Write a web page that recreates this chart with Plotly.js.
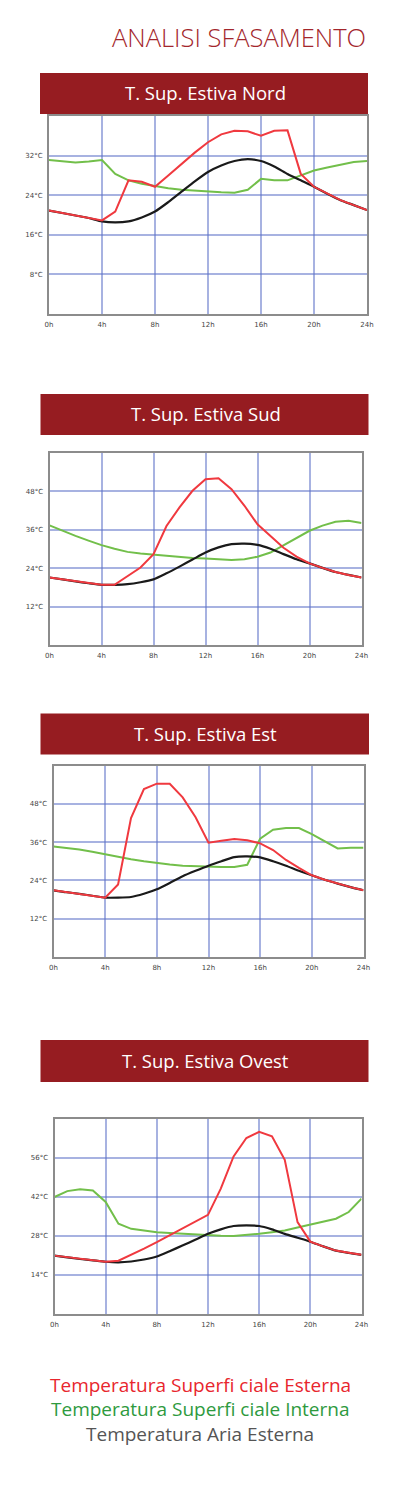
<!DOCTYPE html>
<html>
<head>
<meta charset="utf-8">
<script src="https://cdn.plot.ly/plotly-3.0.1.min.js"></script>
<style>
html,body{margin:0;padding:0;background:#fff;}
#chart{width:399px;height:1500px;}
</style>
</head>
<body>
<div id="chart"></div>
<script>
// ---------- DATA ----------
const HOURS = [0,1,2,3,4,5,6,7,8,9,10,11,12,13,14,15,16,17,18,19,20,21,22,23,24];
const X_TICK_LABELS = ['0h','4h','8h','12h','16h','20h','24h'];
const X_TICK_VALUES = [0,4,8,12,16,20,24];

const PANEL_TITLES = ['T. Sup. Estiva Nord','T. Sup. Estiva Sud','T. Sup. Estiva Est','T. Sup. Estiva Ovest'];

// Nord
const nordEsterna = [20.9,20.4,19.9,19.4,18.9,20.7,27.0,26.7,25.7,28.0,30.3,32.6,34.7,36.3,37.0,36.9,36.0,37.0,37.1,28.3,25.7,24.3,23.0,22.0,21.0];
const nordInterna = [31.1,30.8,30.6,30.8,31.1,28.3,27.0,26.3,25.8,25.4,25.1,24.9,24.7,24.6,24.5,25.1,27.3,27.0,27.0,28.0,29.0,29.6,30.2,30.7,30.9];
const nordAria    = [20.9,20.4,19.9,19.4,18.7,18.5,18.7,19.5,20.7,22.6,24.7,26.8,28.7,30.0,30.9,31.3,30.9,29.8,28.3,27.0,25.7,24.3,23.0,22.0,21.0];
const nordTickVals = [8,16,24,32];
const nordTickLabels = ['8°C','16°C','24°C','32°C'];

// Sud
const sudEsterna = [21.1,20.5,19.9,19.3,18.8,18.8,21.5,24.2,28.4,37.2,43.0,48.2,51.8,52.1,48.7,43.5,37.7,34.1,30.4,27.6,25.5,24.1,22.8,21.9,21.1];
const sudInterna = [37.4,35.7,34.1,32.6,31.2,30.1,29.1,28.6,28.2,27.8,27.5,27.2,27.0,26.8,26.6,26.8,27.6,28.9,31.2,33.6,35.7,37.3,38.5,38.8,38.1];
const sudAria    = [21.1,20.5,19.9,19.3,18.8,18.8,19.0,19.6,20.5,22.4,24.5,26.7,28.9,30.5,31.5,31.7,31.3,30.1,28.4,26.8,25.5,24.1,22.8,21.9,21.1];
const sudTickVals = [12,24,36,48];
const sudTickLabels = ['12°C','24°C','36°C','48°C'];

// Est
const estEsterna = [20.9,20.3,19.8,19.2,18.6,22.7,43.5,52.6,54.3,54.3,50.0,43.8,35.8,36.4,37.0,36.6,35.6,33.5,30.4,27.9,25.6,24.2,23.0,21.9,20.9];
const estInterna = [34.6,34.2,33.7,33.0,32.2,31.3,30.6,30.0,29.4,29.0,28.6,28.4,28.2,28.2,28.2,28.9,37.1,39.9,40.4,40.4,38.5,36.3,34.0,34.2,34.2];
const estAria    = [20.9,20.3,19.8,19.2,18.6,18.6,18.8,19.8,21.2,23.2,25.3,27.0,28.6,30.0,31.3,31.5,31.2,30.0,28.6,27.0,25.6,24.2,23.0,21.9,20.9];
const estTickVals = [12,24,36,48];
const estTickLabels = ['12°C','24°C','36°C','48°C'];

// Ovest
const ovestEsterna = [20.9,20.3,19.7,19.2,18.7,19.1,21.2,23.4,25.7,28.1,30.5,33.0,35.5,44.9,56.4,63.0,65.2,63.6,55.2,32.9,25.9,24.2,22.7,21.9,21.2];
const ovestInterna = [41.9,44.0,44.7,44.2,40.1,32.3,30.5,29.8,29.3,29.0,28.7,28.4,28.1,28.0,27.9,28.2,28.7,29.3,29.9,31.0,32.0,33.0,34.1,36.5,41.3];
const ovestAria    = [20.9,20.3,19.7,19.2,18.7,18.5,18.8,19.5,20.6,22.5,24.5,26.6,28.7,30.3,31.5,31.7,31.5,30.3,28.7,27.3,25.9,24.2,22.7,21.9,21.2];
const ovestTickVals = [14,28,42,56];
const ovestTickLabels = ['14°C','28°C','42°C','56°C'];

const Y_MAX = [40,60,60,70];

const LEGEND_LABELS = ['Temperatura Superfi ciale Esterna','Temperatura Superfi ciale Interna','Temperatura Aria Esterna'];
const MAIN_TITLE = 'ANALISI SFASAMENTO';

// ---------- LAYOUT ----------
const W = 399, H = 1500;
const px = v => v / W;
const py = v => 1 - v / H;

const panels = [
  {esterna: nordEsterna, interna: nordInterna, aria: nordAria, tv: nordTickVals, tt: nordTickLabels,
   plot:[49,367,116,314], head:[40,368,73,114]},
  {esterna: sudEsterna, interna: sudInterna, aria: sudAria, tv: sudTickVals, tt: sudTickLabels,
   plot:[49.5,361.5,453,645], head:[40.5,368.5,394,435]},
  {esterna: estEsterna, interna: estInterna, aria: estAria, tv: estTickVals, tt: estTickLabels,
   plot:[53.5,363.5,765.5,957], head:[40.5,369,713.5,754.5]},
  {esterna: ovestEsterna, interna: ovestInterna, aria: ovestAria, tv: ovestTickVals, tt: ovestTickLabels,
   plot:[54.5,361.5,1118.5,1314], head:[40.5,368.5,1040,1082]}
];

const RED = '#f0393f', GREEN = '#72bf4a', BLACK = '#1a1a1a';
const traces = [];
const layout = {
  width: W, height: H,
  margin: {l:0, r:0, t:0, b:0},
  paper_bgcolor: '#ffffff',
  plot_bgcolor: '#ffffff',
  showlegend: false,
  shapes: [],
  annotations: []
};

panels.forEach((p, i) => {
  const n = i === 0 ? '' : String(i + 1);
  const xa = 'x' + n, ya = 'y' + n;
  const common = {x: HOURS, xaxis: xa, yaxis: ya, mode: 'lines', hoverinfo: 'skip'};
  traces.push(Object.assign({}, common, {y: p.interna, line: {color: GREEN, width: 2}}));
  traces.push(Object.assign({}, common, {y: p.aria, line: {color: BLACK, width: 2.2, shape: 'spline', smoothing: 0.6}}));
  traces.push(Object.assign({}, common, {y: p.esterna, line: {color: RED, width: 2}}));

  const [x0, x1, y0, y1] = p.plot;
  layout['xaxis' + n] = {
    domain: [px(x0), px(x1)], anchor: ya,
    range: [0, 24], tickvals: X_TICK_VALUES, ticktext: X_TICK_LABELS,
    showgrid: true, gridcolor: 'rgba(95,115,200,0.55)', gridwidth: 2,
    zeroline: false, showline: true, mirror: true, linecolor: '#8c8c8c', linewidth: 2,
    ticks: 'outside', ticklen: 3, tickcolor: 'rgba(0,0,0,0)',
    tickfont: {family: 'DejaVu Sans', size: 7, color: '#444'}, fixedrange: true
  };
  layout['yaxis' + n] = {
    domain: [py(y1), py(y0)], anchor: xa,
    range: [0, Y_MAX[i]], tickvals: p.tv, ticktext: p.tt,
    showgrid: true, gridcolor: 'rgba(95,115,200,0.55)', gridwidth: 2,
    zeroline: false, showline: true, mirror: true, linecolor: '#8c8c8c', linewidth: 2,
    ticks: 'outside', ticklen: 3, tickcolor: 'rgba(0,0,0,0)',
    tickfont: {family: 'DejaVu Sans', size: 7, color: '#444'}, fixedrange: true
  };

  const [hx0, hx1, hy0, hy1] = p.head;
  layout.shapes.push({type: 'rect', xref: 'paper', yref: 'paper',
    x0: px(hx0), x1: px(hx1), y0: py(hy1), y1: py(hy0),
    fillcolor: '#961c21', line: {width: 0}, layer: 'above'});
  layout.annotations.push({xref: 'paper', yref: 'paper',
    x: px((hx0 + hx1) / 2 + 1), y: py((hy0 + hy1) / 2 - 1), xanchor: 'center', yanchor: 'middle',
    text: PANEL_TITLES[i], showarrow: false,
    font: {family: 'Open Sans', size: 18.5, color: '#ffffff'}});
});

layout.annotations.push({xref: 'paper', yref: 'paper', x: px(368), y: py(37),
  xanchor: 'right', yanchor: 'middle', text: MAIN_TITLE, showarrow: false,
  font: {family: 'Open Sans', size: 25.5, color: '#a3262c', weight: 300}});

const LEG_COLORS = ['#e8262d', '#2e9a3e', '#555555'];
const LEG_Y = [1385, 1409, 1434];
LEGEND_LABELS.forEach((t, k) => {
  layout.annotations.push({xref: 'paper', yref: 'paper', x: px(200), y: py(LEG_Y[k]),
    xanchor: 'center', yanchor: 'middle', text: t, showarrow: false,
    font: {family: 'Open Sans', size: 19, color: LEG_COLORS[k]}});
});

Plotly.newPlot('chart', traces, layout, {staticPlot: true, displayModeBar: false});
</script>
</body>
</html>
